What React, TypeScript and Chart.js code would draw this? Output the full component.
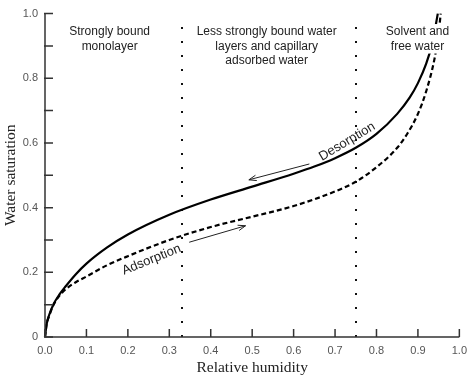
import { useEffect, useRef } from "react";
import { Chart, registerables } from "chart.js";

Chart.register(...registerables);

// ---- data ----
const rhDesorption = [0, 0.004, 0.01, 0.02, 0.035, 0.05, 0.075, 0.1, 0.15, 0.2, 0.3, 0.4, 0.5, 0.6, 0.65, 0.7, 0.75, 0.8, 0.85, 0.88, 0.9, 0.92, 0.935, 0.948];
const wsDesorption = [0, 0.04, 0.068, 0.1, 0.132, 0.157, 0.195, 0.227, 0.277, 0.317, 0.378, 0.425, 0.465, 0.505, 0.527, 0.553, 0.585, 0.628, 0.69, 0.74, 0.785, 0.845, 0.91, 1.0];
const rhAdsorption = [0, 0.004, 0.01, 0.02, 0.035, 0.05, 0.075, 0.1, 0.15, 0.2, 0.3, 0.4, 0.5, 0.6, 0.7, 0.75, 0.8, 0.85, 0.875, 0.9, 0.92, 0.94, 0.95, 0.955];
const wsAdsorption = [0, 0.04, 0.065, 0.098, 0.128, 0.148, 0.17, 0.187, 0.222, 0.25, 0.3, 0.34, 0.372, 0.405, 0.45, 0.48, 0.525, 0.585, 0.63, 0.69, 0.76, 0.86, 0.94, 1.0];

const xTickValues = [0, 0.1, 0.2, 0.3, 0.4, 0.5, 0.6, 0.7, 0.8, 0.9, 1.0];
const yTickValues = [0, 0.1, 0.2, 0.3, 0.4, 0.5, 0.6, 0.7, 0.8, 0.9, 1.0];

const regionBounds = [0.33, 0.75];
const regionLabels = [
  ["Strongly bound", "monolayer"],
  ["Less strongly bound water", "layers and capillary", "adsorbed water"],
  ["Solvent and", "free water"],
];
const regionLabelX = [0.156, 0.535, 0.899];
const regionLabelY = 0.943;

const curveLabels = ["Desorption", "Adsorption"];
const curveLabelX = [0.729, 0.257];
const curveLabelY = [0.604, 0.239];
const curveLabelAngle = [-31, -22];

const arrowFromX = [0.638, 0.348];
const arrowFromY = [0.535, 0.293];
const arrowToX = [0.492, 0.484];
const arrowToY = [0.486, 0.344];

const SANS = '"Liberation Sans", Arial, sans-serif';
const SERIF = '"Liberation Serif", "Times New Roman", serif';

const overlayPlugin = {
  id: "overlay",
  beforeDatasetsDraw(chart: any) {
    const { ctx, chartArea, scales } = chart;
    const xs = scales.x;
    ctx.save();
    ctx.strokeStyle = "#111";
    ctx.lineWidth = 2;
    ctx.setLineDash([2, 12]);
    for (const b of regionBounds) {
      const px = Math.round(xs.getPixelForValue(b));
      ctx.beginPath();
      ctx.moveTo(px, chartArea.bottom);
      ctx.lineTo(px, chartArea.top + 4);
      ctx.stroke();
    }
    ctx.restore();
  },
  afterDraw(chart: any) {
    const { ctx, chartArea, scales } = chart;
    const xs = scales.x;
    const ys = scales.y;
    ctx.save();
    // axes
    ctx.strokeStyle = "#333";
    ctx.lineWidth = 1.5;
    ctx.setLineDash([]);
    ctx.beginPath();
    ctx.moveTo(chartArea.left, chartArea.top);
    ctx.lineTo(chartArea.left, chartArea.bottom);
    ctx.lineTo(chartArea.right, chartArea.bottom);
    ctx.stroke();
    // ticks (inward)
    ctx.beginPath();
    for (const v of xTickValues) {
      const px = xs.getPixelForValue(v);
      ctx.moveTo(px, chartArea.bottom);
      ctx.lineTo(px, chartArea.bottom - 8);
    }
    for (const v of yTickValues) {
      const py = ys.getPixelForValue(v);
      ctx.moveTo(chartArea.left - 1, py);
      ctx.lineTo(chartArea.left + 8, py);
    }
    ctx.stroke();

    // region labels (with white backing)
    ctx.font = `12px ${SANS}`;
    ctx.textAlign = "center";
    ctx.textBaseline = "middle";
    regionLabels.forEach((lines, i) => {
      const px = xs.getPixelForValue(regionLabelX[i]);
      const py = ys.getPixelForValue(regionLabelY);
      lines.forEach((t, j) => {
        const w = ctx.measureText(t).width;
        ctx.fillStyle = "#fff";
        ctx.fillRect(px - w / 2 - 2, py + j * 14.5 - 8, w + 4, 15);
      });
      ctx.fillStyle = "#222";
      lines.forEach((t, j) => ctx.fillText(t, px, py + j * 14.5));
    });

    // curve labels
    ctx.fillStyle = "#222";
    curveLabels.forEach((t, i) => {
      const px = xs.getPixelForValue(curveLabelX[i]);
      const py = ys.getPixelForValue(curveLabelY[i]);
      ctx.save();
      ctx.translate(px, py);
      ctx.rotate((curveLabelAngle[i] * Math.PI) / 180);
      ctx.font = `13px ${SANS}`;
      ctx.fillText(t, 0, 0);
      ctx.restore();
    });

    // arrows
    ctx.strokeStyle = "#222";
    ctx.lineWidth = 1;
    arrowFromX.forEach((_, i) => {
      const x1 = xs.getPixelForValue(arrowFromX[i]);
      const y1 = ys.getPixelForValue(arrowFromY[i]);
      const x2 = xs.getPixelForValue(arrowToX[i]);
      const y2 = ys.getPixelForValue(arrowToY[i]);
      const a = Math.atan2(y2 - y1, x2 - x1);
      ctx.beginPath();
      ctx.moveTo(x1, y1);
      ctx.lineTo(x2, y2);
      const L = 8;
      ctx.moveTo(x2 - L * Math.cos(a - 0.35), y2 - L * Math.sin(a - 0.35));
      ctx.lineTo(x2, y2);
      ctx.lineTo(x2 - L * Math.cos(a + 0.35), y2 - L * Math.sin(a + 0.35));
      ctx.stroke();
    });
    ctx.restore();
  },
};

export default function App() {
  const ref = useRef<HTMLCanvasElement | null>(null);
  useEffect(() => {
    document.body.style.margin = "0";
    const canvas = ref.current;
    if (!canvas) return;
    const desorption = rhDesorption.map((x, i) => ({ x, y: wsDesorption[i] }));
    const adsorption = rhAdsorption.map((x, i) => ({ x, y: wsAdsorption[i] }));
    const chart = new Chart(canvas, {
      type: "line",
      data: {
        datasets: [
          {
            label: "Desorption",
            data: desorption,
            borderColor: "#000",
            borderWidth: 2.2,
            pointRadius: 0,
            cubicInterpolationMode: "monotone",
            fill: false,
          },
          {
            label: "Adsorption",
            data: adsorption,
            borderColor: "#000",
            borderWidth: 2.2,
            borderDash: [5, 3],
            pointRadius: 0,
            cubicInterpolationMode: "monotone",
            fill: false,
          },
        ],
      },
      options: {
        responsive: false,
        animation: false,
        clip: false,
        layout: { padding: { top: 5, right: 12, left: 0, bottom: 0 } },
        plugins: { legend: { display: false }, tooltip: { enabled: false } },
        scales: {
          x: {
            type: "linear",
            min: 0,
            max: 1,
            grid: { display: false, drawTicks: false },
            border: { display: false },
            afterFit: (s: any) => {
              s.height = 42;
            },
            ticks: {
              stepSize: 0.1,
              autoSkip: false,
              maxRotation: 0,
              padding: 7,
              color: "#555",
              font: { family: SANS, size: 11 },
              callback: (v: any) => Number(v).toFixed(1),
            },
            title: {
              display: true,
              text: "Relative humidity",
              color: "#222",
              font: { family: SERIF, size: 15.5 },
              padding: { top: 0, bottom: 2 },
            },
          },
          y: {
            type: "linear",
            min: 0,
            max: 1,
            grid: { display: false, drawTicks: false },
            border: { display: false },
            afterFit: (s: any) => {
              s.width = 45;
            },
            ticks: {
              stepSize: 0.1,
              autoSkip: false,
              padding: 7,
              color: "#555",
              font: { family: SANS, size: 11 },
              callback: (v: any) => {
                const n = Math.round(Number(v) * 10);
                if (n % 2 !== 0) return "";
                return n === 0 ? "0" : (n / 10).toFixed(1);
              },
            },
            title: {
              display: true,
              text: "Water saturation",
              color: "#222",
              font: { family: SERIF, size: 15.5 },
              padding: { top: 2, bottom: 0 },
            },
          },
        },
      },
      plugins: [overlayPlugin],
    } as any);
    return () => chart.destroy();
  }, []);
  return (
    <div style={{ width: 474, height: 379 }}>
      <canvas ref={ref} width={474} height={379} />
    </div>
  );
}
